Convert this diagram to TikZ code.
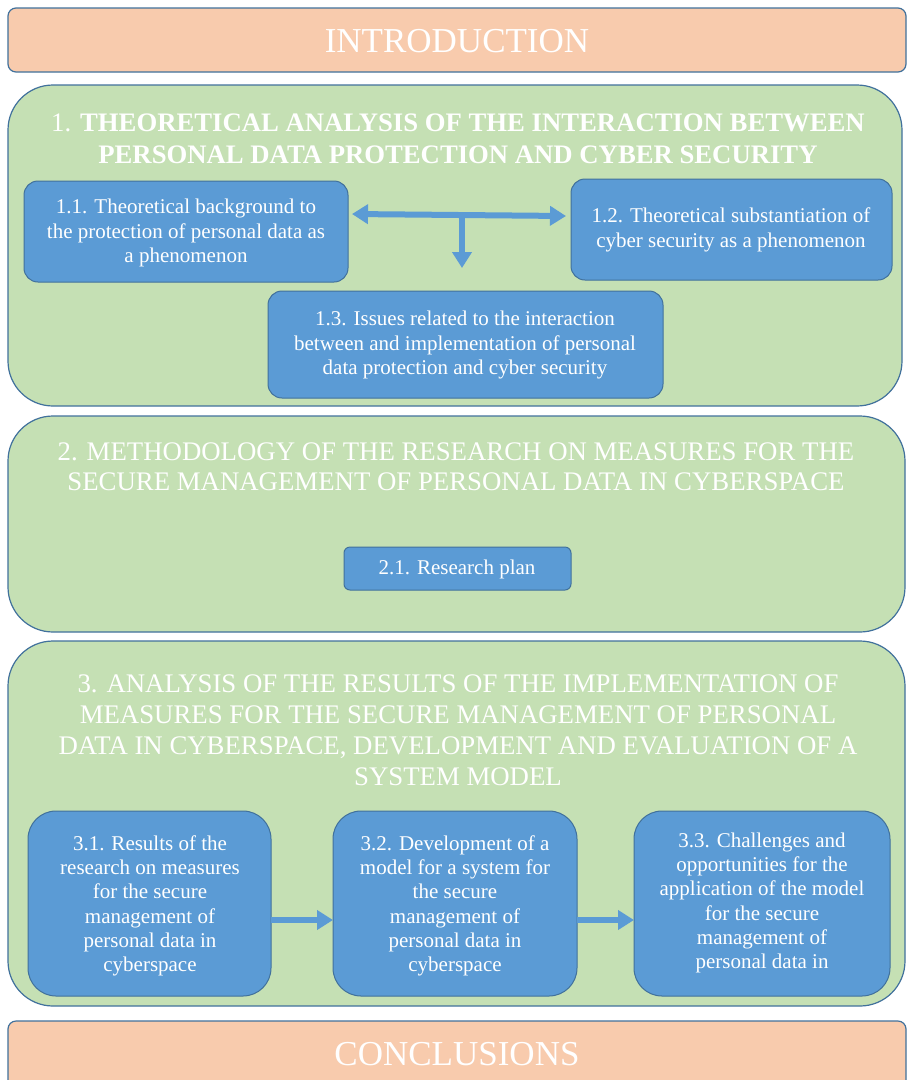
\documentclass[tikz,border=0pt]{standalone}
\usepackage{fontspec}
\setmainfont{Liberation Serif}
\usetikzlibrary{arrows.meta,positioning}
\definecolor{peach}{HTML}{F8CBAD}
\definecolor{lgreen}{HTML}{C5E0B4}
\definecolor{mblue}{HTML}{5B9BD5}
\definecolor{dblue}{HTML}{41719C}
\begin{document}
\begin{tikzpicture}[x=1pt,y=-1pt,
  endbox/.style={draw=dblue,line width=1.2pt,fill=peach,rounded corners=8pt},
  section/.style={draw=dblue,line width=1.2pt,fill=lgreen,rounded corners=45pt},
  sub/.style={draw=dblue,line width=1pt,fill=mblue,rounded corners=14pt},
  subtxt/.style={text=white,font=\fontsize{21}{24.3}\selectfont,align=center},
  ttl/.style={text=white,font=\fontsize{26.8}{30}\selectfont,align=center},
  endtxt/.style={text=white,font=\fontsize{35}{40}\selectfont},
  flow/.style={draw=mblue,line width=6pt,-{Triangle[width=19pt,length=16pt]}},
  dflow/.style={draw=mblue,line width=6pt,{Triangle[width=19pt,length=16pt]}-{Triangle[width=19pt,length=16pt]}},
]
\useasboundingbox (0,0) rectangle (907,1080);
\fill[white] (0,0) rectangle (907,1080);
% introduction
\draw[endbox] (8,8) rectangle (906,72);
\node[endtxt] (intro) at (457,41) {INTRODUCTION};
% section 1
\draw[section] (8,85) rectangle (902,406);
\node[ttl,font=\fontsize{26.7}{32}\selectfont] (t1) at (458,139) {1. \textbf{THEORETICAL ANALYSIS OF THE INTERACTION BETWEEN}\\\textbf{PERSONAL DATA PROTECTION AND CYBER SECURITY}};
\draw[sub] (24,181) rectangle (348,282);
\node[subtxt] (b11) at (186,233) {1.1. Theoretical background to\\the protection of personal data as\\a phenomenon};
\draw[sub] (571,179) rectangle (892,280);
\node[subtxt] (b12) at (731,230) {1.2. Theoretical substantiation of\\cyber security as a phenomenon};
\draw[sub] (268,291) rectangle (663,398);
\node[subtxt] (b13) at (465,345) {1.3. Issues related to the interaction\\between and implementation of personal\\data protection and cyber security};
\coordinate (aL) at (352,214);
\coordinate (aR) at (566,216);
\coordinate (aM) at (462,215);
\coordinate (aD) at (462,268);
\draw[dflow] (aL) -- (aR);
\draw[flow] (aM) -- (aD);
% section 2
\draw[section] (8,416) rectangle (905,632);
\node[ttl] (t2) at (456,467) {2. METHODOLOGY OF THE RESEARCH ON MEASURES FOR THE\\SECURE MANAGEMENT OF PERSONAL DATA IN CYBERSPACE};
\draw[sub,rounded corners=6pt] (344,547) rectangle (571,590);
\node[subtxt] (b21) at (457,569) {2.1. Research plan};
% section 3
\draw[section] (8,641) rectangle (905,1006);
\node[ttl,font=\fontsize{26.8}{31}\selectfont] (t3) at (458,730) {3. ANALYSIS OF THE RESULTS OF THE IMPLEMENTATION OF\\MEASURES FOR THE SECURE MANAGEMENT OF PERSONAL\\DATA IN CYBERSPACE, DEVELOPMENT AND EVALUATION OF A\\SYSTEM MODEL};
\draw[sub,rounded corners=28pt] (28,811) rectangle (271,996);
\node[subtxt] (b31) at (150,906) {3.1. Results of the\\research on measures\\for the secure\\management of\\personal data in\\cyberspace};
\draw[sub,rounded corners=28pt] (333,811) rectangle (577,996);
\node[subtxt] (b32) at (455,906) {3.2. Development of a\\model for a system for\\the secure\\management of\\personal data in\\cyberspace};
\draw[sub,rounded corners=28pt] (634,811) rectangle (890,996);
\node[subtxt] (b33) at (762,903) {3.3. Challenges and\\opportunities for the\\application of the model\\for the secure\\management of\\personal data in};
\coordinate (c1s) at (271,920);
\coordinate (c1e) at (333,920);
\coordinate (c2s) at (577,920);
\coordinate (c2e) at (634,920);
\draw[flow] (c1s) -- (c1e);
\draw[flow] (c2s) -- (c2e);
% conclusions
\draw[endbox] (8,1021) rectangle (906,1095);
\node[endtxt] (concl) at (457,1054) {CONCLUSIONS};
\end{tikzpicture}
\end{document}
